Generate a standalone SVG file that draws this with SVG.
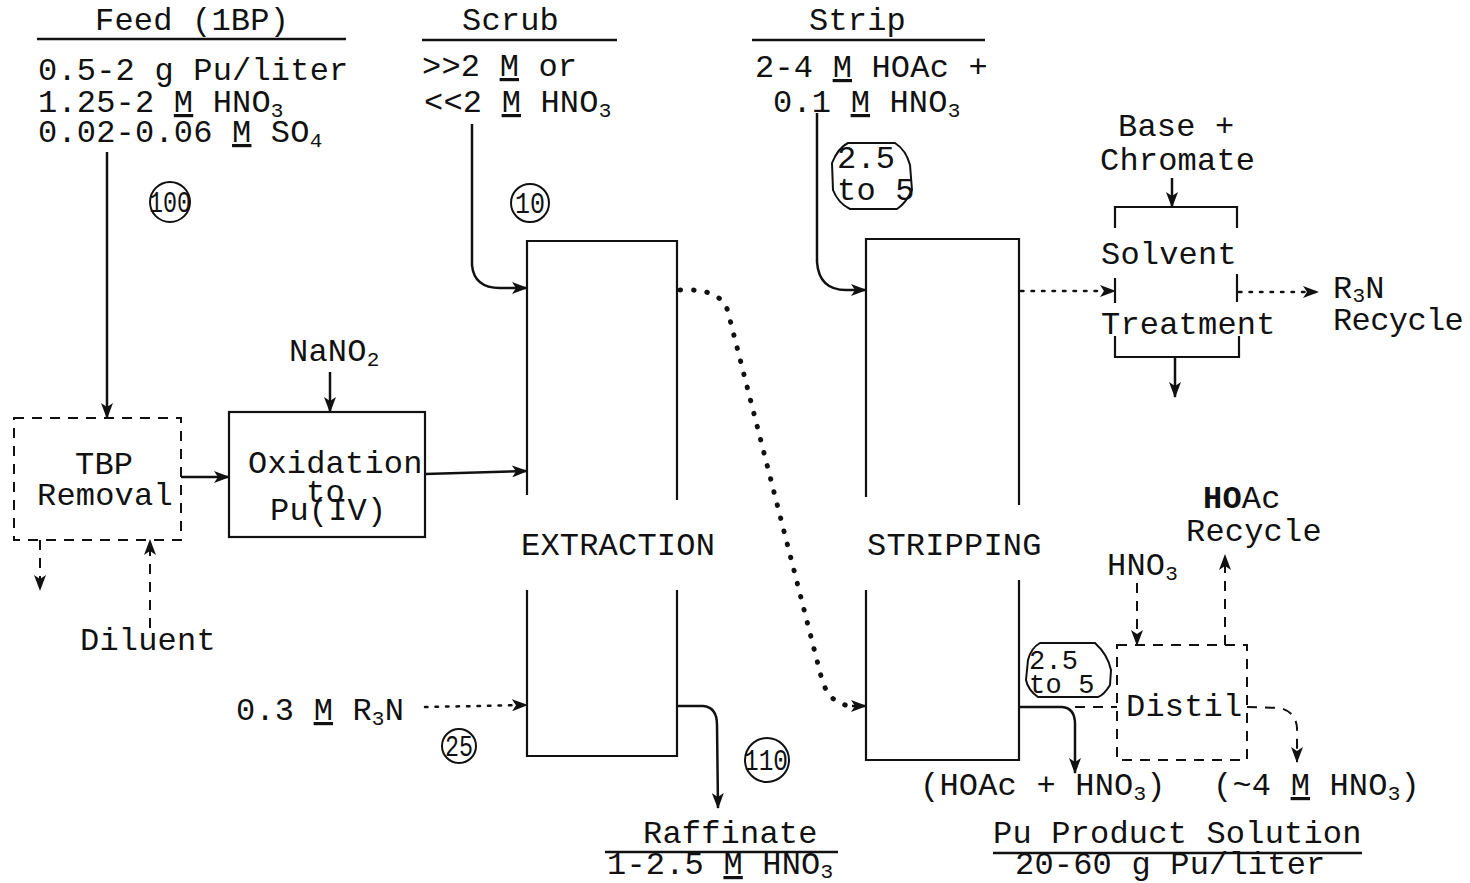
<svg xmlns="http://www.w3.org/2000/svg" width="1470" height="883" viewBox="0 0 1470 883">
<style>
text{font-family:"Liberation Mono","Courier New",monospace;font-size:32px;fill:#111;letter-spacing:0.2px}
.sub{font-size:21px}
.u{text-decoration:underline}
.num{font-size:29px;letter-spacing:0;text-anchor:middle}
.ln{fill:none;stroke:#111;stroke-width:2.5}
.box{fill:none;stroke:#111;stroke-width:2.2}
.dash{fill:none;stroke:#111;stroke-width:2;stroke-dasharray:10 8}
.dot{fill:none;stroke:#111;stroke-width:2.5;stroke-dasharray:2.5 8;stroke-linecap:round}
.bigdot{fill:none;stroke:#111;stroke-width:5;stroke-dasharray:0.5 13;stroke-linecap:round}
.circ{fill:none;stroke:#111;stroke-width:2}
</style>
<defs>
<marker id="ah" viewBox="0 0 16 12" refX="15" refY="6" markerWidth="16" markerHeight="12" markerUnits="userSpaceOnUse" orient="auto">
<path d="M0,0 L16,6 L0,12 L4,6 Z" fill="#111"/>
</marker>
</defs>

<g id="feed">
<text x="95" y="30">Feed (1BP)</text>
<line class="ln" x1="37" y1="39" x2="346" y2="39" stroke-width="2"/>
<text x="38" y="80">0.5-2 g Pu/liter</text>
<text x="38" y="112">1.25-2 <tspan class="u">M</tspan> HNO<tspan class="sub" dy="5">3</tspan></text>
<text x="38" y="142">0.02-0.06 <tspan class="u">M</tspan> SO<tspan class="sub" dy="5">4</tspan></text>
<circle class="circ" cx="170" cy="202" r="20"/>
<text class="num" x="170" y="212" textLength="42" lengthAdjust="spacingAndGlyphs">100</text>
</g>

<g id="scrub">
<text x="462" y="30">Scrub</text>
<line class="ln" x1="422" y1="40" x2="617" y2="40" stroke-width="2"/>
<text x="422" y="76">&gt;&gt;2 <tspan class="u">M</tspan> or</text>
<text x="424" y="112">&lt;&lt;2 <tspan class="u">M</tspan> HNO<tspan class="sub" dy="5">3</tspan></text>
<circle class="circ" cx="530" cy="203" r="19"/>
<text class="num" x="530" y="213" textLength="30" lengthAdjust="spacingAndGlyphs">10</text>
</g>

<g id="strip">
<text x="809" y="30">Strip</text>
<line class="ln" x1="752" y1="40" x2="985" y2="40" stroke-width="2"/>
<text x="755" y="77">2-4 <tspan class="u">M</tspan> HOAc +</text>
<text x="773" y="112">0.1 <tspan class="u">M</tspan> HNO<tspan class="sub" dy="5">3</tspan></text>
<path class="circ" d="M848,143 L895,143 Q906,150 910,165 L912,190 Q906,203 897,209 L850,209 Q838,203 833,190 L832,163 Q838,148 848,143 Z"/>
<text x="837" y="168">2.5</text>
<text x="837" y="200">to 5</text>
</g>

<g id="tbp-removal">
<rect class="dash" x="14" y="418" width="167" height="122"/>
<text x="75" y="474">TBP</text>
<text x="37" y="505">Removal</text>
<text x="80" y="650">Diluent</text>
</g>

<g id="oxidation">
<rect class="box" x="229" y="412" width="196" height="125"/>
<text x="248" y="473">Oxidation</text>
<text x="306" y="502">to</text>
<text x="270" y="520">Pu(IV)</text>
<text x="289" y="361">NaNO<tspan class="sub" dy="5">2</tspan></text>
</g>

<g id="extraction">
<path class="box" d="M527,495 L527,241 L677,241 L677,500"/>
<path class="box" d="M527,590 L527,756 L677,756 L677,590"/>
<text x="521" y="555">EXTRACTION</text>
<text x="236" y="720">0.3 <tspan class="u">M</tspan> R<tspan class="sub" dy="5">3</tspan><tspan dy="-5">N</tspan></text>
<circle class="circ" cx="459" cy="746" r="17"/>
<text class="num" x="459" y="756" textLength="28" lengthAdjust="spacingAndGlyphs">25</text>
<circle class="circ" cx="767" cy="760" r="22"/>
<text class="num" x="766" y="770" textLength="44" lengthAdjust="spacingAndGlyphs">110</text>
</g>

<g id="raffinate">
<text x="643" y="843">Raffinate</text>
<line class="ln" x1="605" y1="852" x2="838" y2="852" stroke-width="2"/>
<text x="607" y="874">1-2.5 <tspan class="u">M</tspan> HNO<tspan class="sub" dy="4">3</tspan></text>
</g>

<g id="stripping">
<path class="box" d="M866,497 L866,239 L1019,239 L1019,505"/>
<path class="box" d="M866,590 L866,760 L1019,760 L1019,580"/>
<text x="867" y="555">STRIPPING</text>
<path class="circ" stroke-width="2.5" d="M1040,643 L1095,643 Q1108,655 1111,670 L1110,685 Q1104,695 1098,697 L1038,697 Q1028,690 1026,680 L1028,660 Q1031,648 1040,643 Z"/>
<text x="1029" y="669" style="font-size:27px">2.5</text>
<text x="1029" y="693" style="font-size:27px">to 5</text>
</g>

<g id="solvent-treatment">
<text x="1118" y="136">Base +</text>
<text x="1100" y="170">Chromate</text>
<path class="box" d="M1115,228 L1115,207 L1237,207 L1237,228"/>
<path class="box" d="M1115,336 L1115,357 L1239,357 L1239,336"/>
<line class="box" x1="1115" y1="278" x2="1115" y2="303"/>
<line class="box" x1="1237" y1="274" x2="1237" y2="302"/>
<text x="1101" y="264">Solvent</text>
<text x="1101" y="334">Treatment</text>
<text x="1333" y="298">R<tspan class="sub" dy="4">3</tspan><tspan dy="-4">N</tspan></text>
<text x="1333" y="330" style="letter-spacing:-0.6px">Recycle</text>
</g>

<g id="distil">
<rect class="dash" x="1117" y="645" width="130" height="115"/>
<text x="1126" y="716">Distil</text>
<text x="1107" y="575">HNO<tspan class="sub" dy="5">3</tspan></text>
<text x="1203" y="508"><tspan font-weight="bold">HO</tspan>Ac</text>
<text x="1186" y="541">Recycle</text>
</g>

<g id="product">
<text x="920" y="795">(HOAc + HNO<tspan class="sub" dy="5">3</tspan><tspan dy="-5">)</tspan></text>
<text x="1213" y="795">(~4 <tspan class="u">M</tspan> HNO<tspan class="sub" dy="5">3</tspan><tspan dy="-5">)</tspan></text>
<text x="993" y="843">Pu Product Solution</text>
<line class="ln" x1="993" y1="853" x2="1362" y2="853" stroke-width="2"/>
<text x="1015" y="874">20-60 g Pu/liter</text>
</g>

<g id="connectors">
<line class="ln" x1="107" y1="152" x2="107" y2="418" marker-end="url(#ah)"/>
<line class="ln" x1="330" y1="372" x2="330" y2="412" marker-end="url(#ah)"/>
<line class="ln" x1="181" y1="477" x2="229" y2="477" marker-end="url(#ah)"/>
<line class="ln" x1="425" y1="474" x2="527" y2="471" marker-end="url(#ah)"/>
<line class="dash" x1="40" y1="540" x2="40" y2="590" marker-end="url(#ah)"/>
<line class="dash" x1="150" y1="628" x2="150" y2="540" marker-end="url(#ah)"/>
<path class="ln" d="M472,124 L472,265 Q474,288 500,288 L527,288" marker-end="url(#ah)"/>
<path class="ln" d="M817,113 L817,262 Q819,290 846,290 L866,290" marker-end="url(#ah)"/>
<path class="dot" d="M425,707 L527,705" marker-end="url(#ah)"/>
<path class="ln" d="M677,706 L703,706 Q717,707 717,725 L718,808" marker-end="url(#ah)"/>
<path class="bigdot" d="M680,290 Q722,288 728,312 L822,680 Q830,705 852,706"/>
<line class="ln" x1="852" y1="706" x2="866" y2="706" stroke-width="1" marker-end="url(#ah)"/>
<path class="dot" d="M1021,291 L1115,291" marker-end="url(#ah)"/>
<path class="dot" d="M1239,292 L1318,292" marker-end="url(#ah)"/>
<line class="ln" x1="1172" y1="178" x2="1172" y2="207" marker-end="url(#ah)"/>
<line class="ln" x1="1175" y1="357" x2="1175" y2="397" marker-end="url(#ah)"/>
<path class="ln" d="M1019,707 L1062,707 Q1075,708 1075,724 L1075,773" marker-end="url(#ah)"/>
<path class="dash" d="M1075,707 L1117,707"/>
<line class="dash" x1="1137" y1="583" x2="1137" y2="645" marker-end="url(#ah)"/>
<line class="dash" x1="1225" y1="645" x2="1225" y2="555" marker-end="url(#ah)"/>
<path class="dash" d="M1247,707 L1280,708 Q1296,712 1297,728 L1297,762" marker-end="url(#ah)"/>
</g>
</svg>
